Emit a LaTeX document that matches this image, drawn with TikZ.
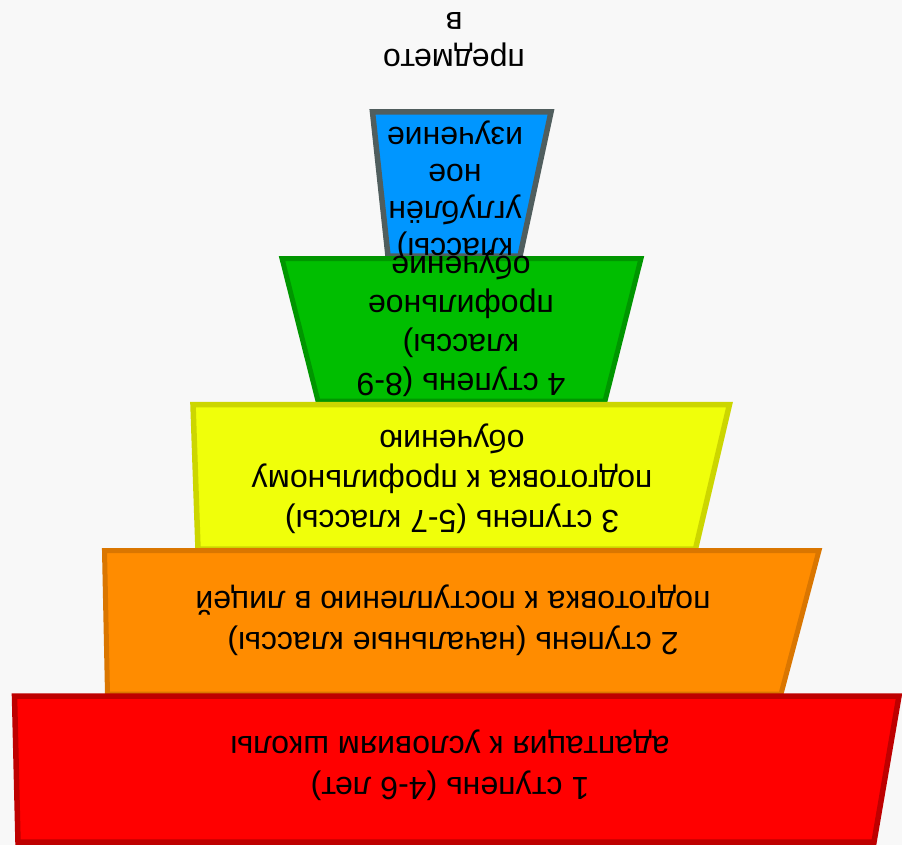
\documentclass[tikz,border=0pt]{standalone}
\usepackage{fontspec}
\setmainfont{Liberation Sans}
\definecolor{bg}{RGB}{248,248,248}
\definecolor{redfill}{RGB}{255,0,0}
\definecolor{redline}{RGB}{190,0,0}
\definecolor{orfill}{RGB}{255,140,0}
\definecolor{orline}{RGB}{218,118,0}
\definecolor{yefill}{RGB}{240,255,10}
\definecolor{yeline}{RGB}{204,214,0}
\definecolor{grfill}{RGB}{0,190,0}
\definecolor{grline}{RGB}{0,150,0}
\definecolor{blfill}{RGB}{0,150,255}
\definecolor{blline}{RGB}{80,94,94}
\begin{document}
\begin{tikzpicture}[x=1pt,y=-1pt,
  tier/.style={line width=5.5pt, line join=miter},
  lbl/.style={rotate=180, align=center, inner sep=0pt, text=black}]
\fill[bg] (0,0) rectangle (902,845);
\useasboundingbox (0,0) rectangle (902,845);
% blue tier
\filldraw[tier, fill=blfill, draw=blline] (372.5,112) -- (551,112) -- (520,256) -- (388,256) -- cycle;
\node[lbl, font=\fontsize{32}{37}\selectfont] (t5) at (455,190.5)
  {\strut классы)\\\strut углублён\\\strut ное\\\strut изучение};
\node[lbl, font=\fontsize{32}{37}\selectfont] (t5b) at (454,38.5)
  {\strut предмето\\\strut в};
% green tier
\filldraw[tier, line width=5pt, fill=grfill, draw=grline] (282,258.5) -- (641,258.5) -- (605,401) -- (318,401) -- cycle;
\node[lbl, font=\fontsize{32}{39}\selectfont] (t4) at (461,323)
  {\strut 4 ступень (8-9\\\strut классы)\\\strut профильное\\\strut обучение};
% yellow tier
\filldraw[tier, fill=yefill, draw=yeline] (193,404.5) -- (729.5,404.5) -- (695.5,549) -- (198,549) -- cycle;
\node[lbl, font=\fontsize{32}{40}\selectfont] (t3) at (452,478)
  {\strut 3 ступень (5-7 классы)\\\strut подготовка к профильному\\\strut обучению};
% orange tier
\filldraw[tier, line width=5pt, fill=orfill, draw=orline] (104.5,550.5) -- (819,550.5) -- (781,694) -- (107.5,694) -- cycle;
\node[lbl, font=\fontsize{32}{41}\selectfont] (t2) at (453,620)
  {\strut 2 ступень (начальные классы)\\\strut подготовка к поступлению в лицей};
% red tier
\filldraw[tier, fill=redfill, draw=redline] (14.5,696) -- (899,696) -- (874,842) -- (18,842) -- cycle;
\node[lbl, font=\fontsize{32}{41}\selectfont] (t1) at (450,765.5)
  {\strut 1 ступень (4-6 лет)\\\strut адаптация к условиям школы};
\end{tikzpicture}
\end{document}
